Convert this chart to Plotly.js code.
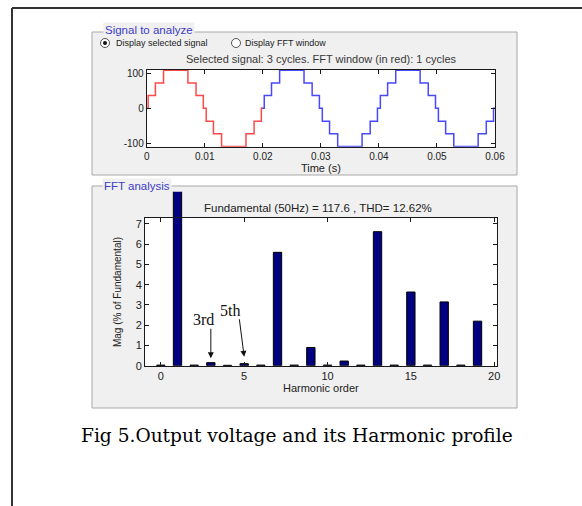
<!DOCTYPE html>
<html><head><meta charset="utf-8">
<script src="https://cdn.plot.ly/plotly-3.0.1.min.js"></script>
<style>html,body{margin:0;padding:0;background:#fff;}#chart{width:582px;height:506px;}</style>
</head><body><div id="chart"></div>
<script>
// ---------------- data ----------------
// Output voltage staircase: switching instants (s) and levels (V), whole 3-cycle signal (blue)
const signalTimes = [
  0, 0.00025, 0.0015, 0.0029, 0.0071, 0.0085, 0.00975, 0.01025, 0.0115, 0.0129, 0.0171, 0.0185, 0.01975,
  0.02025, 0.0215, 0.0229, 0.0271, 0.0285, 0.02975, 0.03025, 0.0315, 0.0329, 0.0371, 0.0385, 0.03975,
  0.04025, 0.0415, 0.0429, 0.0471, 0.0485, 0.04975, 0.05025, 0.0515, 0.0529, 0.0571, 0.0585, 0.05975, 0.06
];
const signalLevels = [
  0, 37, 73, 110, 73, 37, 0, -37, -73, -110, -73, -37, 0,
  37, 73, 110, 73, 37, 0, -37, -73, -110, -73, -37, 0,
  37, 73, 110, 73, 37, 0, -37, -73, -110, -73, -37, 0, 0
];
// FFT window (first cycle, red)
const windowTimes = [0, 0.00025, 0.0015, 0.0029, 0.0071, 0.0085, 0.00975, 0.01025, 0.0115, 0.0129, 0.0171, 0.0185, 0.01975, 0.02];
const windowLevels = [0, 37, 73, 110, 73, 37, 0, -37, -73, -110, -73, -37, 0, 0];

// Harmonic spectrum (% of fundamental)
const harmonicOrder = [0, 1, 2, 3, 4, 5, 6, 7, 8, 9, 10, 11, 12, 13, 14, 15, 16, 17, 18, 19];
const harmonicMag   = [0.03, 100, 0.03, 0.15, 0.02, 0.1, 0.03, 5.6, 0.03, 0.9, 0.03, 0.23, 0.03, 6.62, 0.03, 3.64, 0.03, 3.15, 0.03, 2.2];

// tick labels
const timeTicks = [0, 0.01, 0.02, 0.03, 0.04, 0.05, 0.06];
const timeTickText = ['0', '0.01', '0.02', '0.03', '0.04', '0.05', '0.06'];
const voltTicks = [-100, 0, 100];
const voltTickText = ['-100', '0', '100'];
const orderTicks = [0, 5, 10, 15, 20];
const magTicks = [0, 1, 2, 3, 4, 5, 6, 7];

// text
const signalTitle = 'Selected signal: 3 cycles. FFT window (in red): 1 cycles';
const fftTitle = 'Fundamental (50Hz) = 117.6 , THD= 12.62%';
const caption = 'Fig 5.Output voltage and its Harmonic profile';

// ---------------- layout helpers ----------------
const W = 582, H = 506;
const px = v => v / W;
const py = v => 1 - v / H;

const SANS = 'Liberation Sans, Arial, sans-serif';
const SERIF = 'Liberation Serif, Times New Roman, serif';
const tickFont = {family: SANS, size: 10, color: '#222222'};
const frameColor = '#1a1a1a';

const frameAxis = {
  showline: true, mirror: 'ticks', linecolor: frameColor, linewidth: 1,
  ticks: 'inside', ticklen: 4, tickcolor: frameColor, tickwidth: 1,
  showgrid: false, zeroline: false, tickfont: tickFont, fixedrange: true
};
const hiddenAxis = {visible: false, showgrid: false, zeroline: false, fixedrange: true};

// blue part shown outside the red FFT window (from the end of the window onwards)
const windowEnd = windowTimes.length - 2;

const traces = [
  {type: 'scatter', mode: 'lines', x: signalTimes.slice(windowEnd), y: signalLevels.slice(windowEnd),
   xaxis: 'x', yaxis: 'y', line: {color: '#4848ff', width: 1.5, shape: 'hv'}, hoverinfo: 'skip'},
  {type: 'scatter', mode: 'lines', x: windowTimes, y: windowLevels, xaxis: 'x', yaxis: 'y',
   line: {color: '#ff4848', width: 1.5, shape: 'hv'}, hoverinfo: 'skip'},
  {type: 'bar', x: harmonicOrder, y: harmonicMag, xaxis: 'x2', yaxis: 'y2', width: 0.5,
   marker: {color: '#000080', line: {color: '#000000', width: 1}}, hoverinfo: 'skip'}
];

const layout = {
  width: W, height: H,
  margin: {l: 0, r: 0, t: 0, b: 0, pad: 0},
  paper_bgcolor: '#ffffff', plot_bgcolor: 'rgba(0,0,0,0)',
  showlegend: false,
  xaxis: Object.assign({}, frameAxis, {
    domain: [px(146.7), px(495)], range: [0, 0.06], anchor: 'y',
    tickvals: timeTicks, ticktext: timeTickText,
    title: {text: 'Time (s)', font: {family: SANS, size: 11, color: '#222222'}, standoff: 1}
  }),
  yaxis: Object.assign({}, frameAxis, {
    domain: [py(146.7), py(70)], range: [-110.6, 110.6], anchor: 'x',
    tickvals: voltTicks, ticktext: voltTickText
  }),
  xaxis2: Object.assign({}, hiddenAxis, {domain: [px(145), px(496.7)], range: [-0.95, 20.15], anchor: 'y2'}),
  yaxis2: Object.assign({}, hiddenAxis, {domain: [py(365.7), py(191.7)], range: [0, 8.594], anchor: 'x2'}),
  xaxis3: Object.assign({}, frameAxis, {
    domain: [px(145), px(496.7)], range: [-0.95, 20.15], anchor: 'y3',
    tickvals: orderTicks,
    tickfont: {family: SANS, size: 11, color: '#222222'},
    title: {text: 'Harmonic order', font: {family: SANS, size: 11, color: '#222222'}, standoff: 1}
  }),
  yaxis3: Object.assign({}, frameAxis, {
    domain: [py(365.7), py(218.3)], range: [0, 7.28], anchor: 'x3',
    tickvals: magTicks,
    tickfont: {family: SANS, size: 11, color: '#222222'},
    title: {text: 'Mag (% of Fundamental)', font: {family: SANS, size: 10, color: '#222222'}, standoff: 12}
  }),
  shapes: [
    // panels
    {type: 'rect', xref: 'paper', yref: 'paper', x0: px(92), x1: px(517), y0: py(32), y1: py(175),
     fillcolor: '#f0f0f0', line: {color: '#a8a8a8', width: 1}, layer: 'below'},
    {type: 'rect', xref: 'paper', yref: 'paper', x0: px(92), x1: px(517), y0: py(186), y1: py(408),
     fillcolor: '#f0f0f0', line: {color: '#a8a8a8', width: 1}, layer: 'below'},
    // white plot areas
    {type: 'rect', xref: 'x domain', yref: 'y domain', x0: 0, x1: 1, y0: 0, y1: 1,
     fillcolor: '#ffffff', line: {width: 0}, layer: 'below'},
    {type: 'rect', xref: 'x3 domain', yref: 'y3 domain', x0: 0, x1: 1, y0: 0, y1: 1,
     fillcolor: '#ffffff', line: {width: 0}, layer: 'below'},
    // radio buttons
    {type: 'circle', xref: 'paper', yref: 'paper', x0: px(100.5), x1: px(109.5), y0: py(47.5), y1: py(38.5),
     fillcolor: '#ffffff', line: {color: '#555555', width: 1}, layer: 'above'},
    {type: 'circle', xref: 'paper', yref: 'paper', x0: px(103), x1: px(107), y0: py(45), y1: py(41),
     fillcolor: '#111111', line: {width: 0}, layer: 'above'},
    {type: 'circle', xref: 'paper', yref: 'paper', x0: px(231.5), x1: px(240.5), y0: py(47.5), y1: py(38.5),
     fillcolor: '#ffffff', line: {color: '#555555', width: 1}, layer: 'above'},
    // outer page frame
    {type: 'line', xref: 'paper', yref: 'paper', x0: px(12), x1: 1, y0: py(8), y1: py(8),
     line: {color: '#333333', width: 2}},
    {type: 'line', xref: 'paper', yref: 'paper', x0: px(12), x1: px(12), y0: py(8), y1: 0,
     line: {color: '#333333', width: 2}}
  ],
  annotations: [
    {xref: 'paper', yref: 'paper', x: px(103), y: py(30), xanchor: 'left', yanchor: 'middle', showarrow: false,
     text: 'Signal to analyze', bgcolor: '#f0f0f0', borderpad: 1,
     font: {family: SANS, size: 11.5, color: '#3c3cc8'}},
    {xref: 'paper', yref: 'paper', x: px(114), y: py(43), xanchor: 'left', yanchor: 'middle', showarrow: false,
     text: 'Display selected signal', font: {family: SANS, size: 9, color: '#1a1a1a'}},
    {xref: 'paper', yref: 'paper', x: px(243), y: py(43), xanchor: 'left', yanchor: 'middle', showarrow: false,
     text: 'Display FFT window', font: {family: SANS, size: 9, color: '#1a1a1a'}},
    {xref: 'paper', yref: 'paper', x: px(321), y: py(59), xanchor: 'center', yanchor: 'middle', showarrow: false,
     text: signalTitle, font: {family: SANS, size: 11, color: '#383838'}},
    {xref: 'paper', yref: 'paper', x: px(102), y: py(186), xanchor: 'left', yanchor: 'middle', showarrow: false,
     text: 'FFT analysis', bgcolor: '#f0f0f0', borderpad: 1,
     font: {family: SANS, size: 11.5, color: '#3c3cc8'}},
    {xref: 'paper', yref: 'paper', x: px(318), y: py(208), xanchor: 'center', yanchor: 'middle', showarrow: false,
     text: fftTitle, font: {family: SANS, size: 11.5, color: '#222222'}},
    // harmonic markers
    {xref: 'paper', yref: 'paper', x: px(203), y: py(319), xanchor: 'center', yanchor: 'middle', showarrow: false,
     text: '3rd', font: {family: SERIF, size: 16, color: '#111111'}},
    {xref: 'paper', yref: 'paper', x: px(230), y: py(310), xanchor: 'center', yanchor: 'middle', showarrow: false,
     text: '5th', font: {family: SERIF, size: 16, color: '#111111'}},
    {xref: 'x3', yref: 'y3', x: harmonicOrder[3], y: 0.37, text: '', showarrow: true,
     ax: 0, ay: -31, arrowhead: 2, arrowsize: 1.2, arrowwidth: 1, arrowcolor: '#111111', standoff: 0},
    {xref: 'x3', yref: 'y3', x: harmonicOrder[5], y: 0.44, text: '', showarrow: true,
     ax: -5, ay: -39, arrowhead: 2, arrowsize: 1.2, arrowwidth: 1, arrowcolor: '#111111', standoff: 0},
    // caption
    {xref: 'paper', yref: 'paper', x: px(296.5), y: py(435.5), xanchor: 'center', yanchor: 'middle', showarrow: false,
     text: caption, font: {family: 'DejaVu Serif, serif', size: 18.6, color: '#000000'}}
  ]
};

Plotly.newPlot('chart', traces, layout, {staticPlot: true, displayModeBar: false});
</script>
</body></html>
